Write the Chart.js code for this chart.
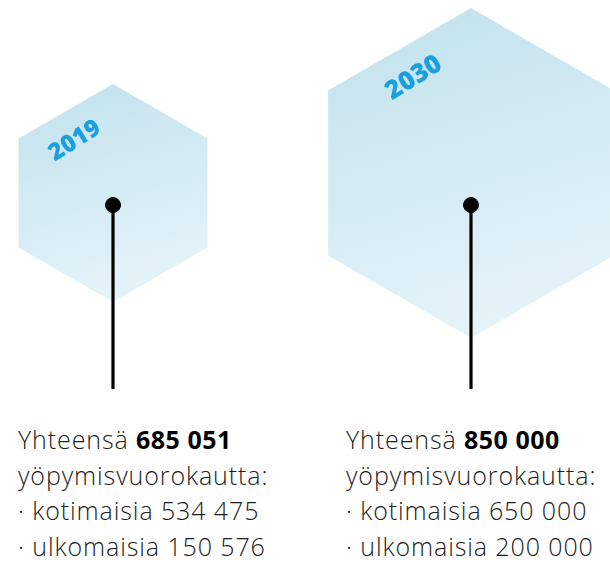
<!DOCTYPE html>
<html>
<head>
<meta charset="utf-8">
<script src="https://cdn.jsdelivr.net/npm/chart.js@4"></script>
<style>
  body { margin: 0; background: #fff; width: 610px; height: 562px; overflow: hidden; position: relative; }
  #wrap { position: absolute; left: 0; top: 0; width: 610px; height: 400px; }
  .info { position: absolute; top: 422px; font-family: "Open Sans", sans-serif; font-weight: 300;
          font-size: 25px; letter-spacing: 0.9px; line-height: 35.7px; color: #1c1c1c; white-space: nowrap; }
  .info b { font-weight: 700; color: #000; letter-spacing: 0.5px; }
</style>
</head>
<body>
<div id="wrap"><canvas id="hexChart"></canvas></div>
<div class="info" id="info0" style="left:18px"></div>
<div class="info" id="info1" style="left:346px"></div>
<script>
const years = [2019, 2030];
const totals = ["685 051", "850 000"];
const domestic = ["534 475", "650 000"];
const foreign = ["150 576", "200 000"];

// drawing styles (pixels on the hidden y scale)
const hexRadius = [109, 165];
const hexCenterY = [193, 173];
const labelOffset = [[-38, -52], [-57, -95]];
const labelSize = [24, 26];
const pinY = 205;
const stemBottom = 389;

const hexPlugin = {
    id: "hexagons",
    beforeDatasetsDraw(chart) {
        const ctx = chart.ctx;
        const xs = chart.scales.x;
        const ys = chart.scales.y;
        years.forEach((yr, i) => {
            const cx = xs.getPixelForValue(yr);
            const cy = ys.getPixelForValue(hexCenterY[i]);
            const r = hexRadius[i];
            const grad = ctx.createLinearGradient(cx - r * 0.3, cy - r, cx + r * 0.3, cy + r);
            grad.addColorStop(0, "#c3e3ee");
            grad.addColorStop(1, "#e7f4f9");
            ctx.save();
            ctx.beginPath();
            for (let k = 0; k < 6; k++) {
                const a = -Math.PI / 2 + k * Math.PI / 3;
                const px = cx + r * Math.cos(a);
                const py = cy + r * Math.sin(a);
                if (k === 0) ctx.moveTo(px, py); else ctx.lineTo(px, py);
            }
            ctx.closePath();
            ctx.fillStyle = grad;
            ctx.fill();

            // year label along the upper-left edge
            ctx.translate(cx + labelOffset[i][0], cy + labelOffset[i][1]);
            ctx.rotate(-32 * Math.PI / 180);
            ctx.font = `800 ${labelSize[i]}px "Open Sans", sans-serif`;
            ctx.fillStyle = "#1b9fe0";
            ctx.textAlign = "center";
            ctx.textBaseline = "middle";
            ctx.fillText(String(yr), 0, 0);
            ctx.restore();

            // stem
            ctx.save();
            ctx.strokeStyle = "#000";
            ctx.lineWidth = 3.2;
            ctx.beginPath();
            ctx.moveTo(cx, ys.getPixelForValue(pinY));
            ctx.lineTo(cx, ys.getPixelForValue(stemBottom));
            ctx.stroke();
            ctx.restore();
        });
    }
};

new Chart(document.getElementById("hexChart"), {
    type: "scatter",
    data: {
        datasets: [{
            label: "pins",
            data: years.map(yr => ({ x: yr, y: pinY })),
            backgroundColor: "#000",
            borderColor: "#000",
            pointRadius: 7.5,
            pointHoverRadius: 7.5
        }]
    },
    options: {
        responsive: true,
        maintainAspectRatio: false,
        animation: false,
        layout: { padding: 0, autoPadding: false },
        plugins: { legend: { display: false }, tooltip: { enabled: false } },
        scales: {
            x: { type: "linear", display: false, min: 2015.528, max: 2034.271 },
            y: { type: "linear", display: false, reverse: true, min: 0, max: 400 }
        }
    },
    plugins: [hexPlugin]
});

years.forEach((yr, i) => {
    document.getElementById("info" + i).innerHTML =
        `Yhteensä <b>${totals[i]}</b><br>` +
        `yöpymisvuorokautta:<br>` +
        `· kotimaisia ${domestic[i]}<br>` +
        `· ulkomaisia ${foreign[i]}`;
});
</script>
</body>
</html>
